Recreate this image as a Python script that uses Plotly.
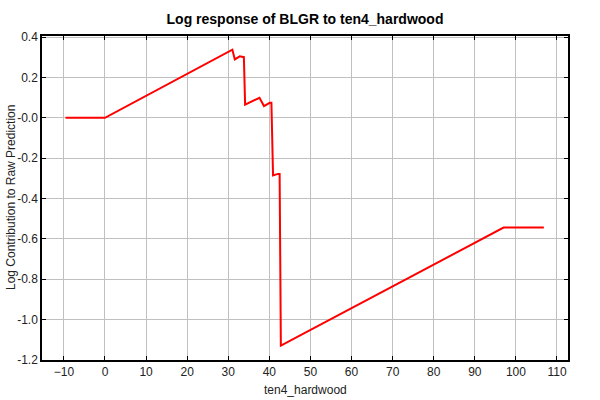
import plotly.graph_objects as go

# Response curve vertices (ten4_hardwood, log contribution)
x_vals = [-9.6, 0.0, 31.0, 31.6, 32.8, 33.8, 34.1, 37.6, 38.7, 40.1, 40.5, 40.9, 42.1, 42.5, 42.8, 97.0, 106.8]
y_vals = [0.0, 0.0, 0.337, 0.289, 0.304, 0.30, 0.065, 0.099, 0.058, 0.074, 0.074, -0.286, -0.278, -0.278, -1.129, -0.544, -0.544]

x_ticks = [-10, 0, 10, 20, 30, 40, 50, 60, 70, 80, 90, 100, 110]
y_ticks = [0.4, 0.2, 0.0, -0.2, -0.4, -0.6, -0.8, -1.0, -1.2]
y_tick_text = ["0.4", "0.2", "-0.0", "-0.2", "-0.4", "-0.6", "-0.8", "-1.0", "-1.2"]

fig = go.Figure()
fig.add_trace(go.Scatter(
    x=x_vals, y=y_vals, mode="lines",
    line=dict(color="#FF0000", width=2),
    showlegend=False, hoverinfo="skip",
))

font_family = "Liberation Sans, Arial, sans-serif"
W, H = 600, 400
# target plot area in page pixels: x 42..568, y 36..360
L, R, T, B = 42, 600 - 568, 36, 400 - 360
pw, ph = W - L - R, H - T - B

fig.update_layout(
    width=W, height=H,
    margin=dict(l=L, r=R, t=T, b=B, autoexpand=False),
    paper_bgcolor="white", plot_bgcolor="white",
    font=dict(family=font_family, size=12, color="#222222"),
    hovermode=False,
    title=dict(
        text="<b>Log response of BLGR to ten4_hardwood</b>",
        x=305 / W, xanchor="center", y=1 - 19 / H, yanchor="middle",
        font=dict(family=font_family, size=14, color="black"),
    ),
    annotations=[
        dict(text="ten4_hardwood", xref="paper", yref="paper",
             x=0.5, y=-(390 - 360) / ph, xanchor="center", yanchor="middle",
             showarrow=False, font=dict(size=12, color="#222222")),
        dict(text="Log Contribution to Raw Prediction", xref="paper", yref="paper",
             x=-(42 - 11) / pw, y=0.5, xanchor="center", yanchor="middle",
             textangle=-90, showarrow=False, font=dict(size=12, color="#222222")),
    ],
)

fig.update_xaxes(
    range=[-15.33, 112.68], automargin=False,
    tickvals=x_ticks,
    ticks="inside", ticklen=4, tickcolor="black",
    showline=True, linecolor="black", linewidth=1.5, mirror="ticks",
    showgrid=True, gridcolor="#C0C0C0", gridwidth=1,
    zeroline=False,
    tickfont=dict(size=12, color="#222222"),
)
fig.update_yaxes(
    range=[-1.2, 0.405], automargin=False,
    tickvals=y_ticks, ticktext=y_tick_text,
    ticks="inside", ticklen=4, tickcolor="black",
    showline=True, linecolor="black", linewidth=1.5, mirror="ticks",
    showgrid=True, gridcolor="#C0C0C0", gridwidth=1,
    zeroline=False,
    tickfont=dict(size=12, color="#222222"),
)

fig.write_html("out.html", config={"displayModeBar": False},
               post_script="document.body.style.margin='0';")
